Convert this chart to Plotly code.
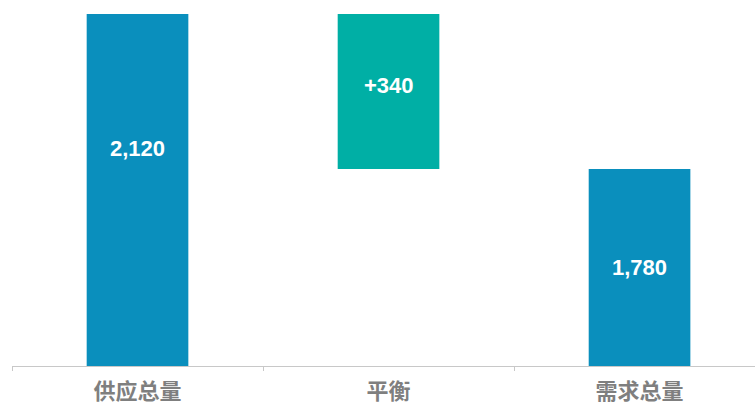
import plotly.graph_objects as go

categories = ["供应总量", "平衡", "需求总量"]
bar_values = [2120, 340, 1780]
bar_bases = [0, 1780, 0]
bar_labels = ["2,120", "+340", "1,780"]
bar_colors = ["#0A8FBD", "#00AFA5", "#0A8FBD"]

fig = go.Figure()
fig.add_trace(go.Bar(
    x=categories, y=bar_values, base=bar_bases,
    marker=dict(color=bar_colors, line=dict(width=0)),
    width=0.405, hoverinfo="skip", showlegend=False,
))

label_y = [1826, 1964, 1563]
for c, t, ly in zip(categories, bar_labels, label_y):
    fig.add_annotation(x=c, y=ly, xref="x", yref="y", text=t, showarrow=False,
                       font=dict(family="Liberation Sans, Arial", size=22, color="white", weight="bold"))

fig.update_layout(
    width=755, height=405,
    margin=dict(l=12, r=0, t=0, b=39),
    paper_bgcolor="white", plot_bgcolor="white",
    xaxis=dict(
        type="category", range=[-0.5, 2.46], automargin=False,
        showline=True, linecolor="#C8C8C8", linewidth=1,
        ticks="outside", tickson="boundaries", ticklen=4, tickcolor="#C8C8C8",
        showgrid=False, ticklabelstandoff=6,
        tickfont=dict(family="Noto Sans CJK SC", size=22, color="#7F7F7F", weight="bold"),
    ),
    yaxis=dict(range=[1348, 2150.7], visible=False, showgrid=False, zeroline=False,
               automargin=False),
)

fig.write_html("out.html")
